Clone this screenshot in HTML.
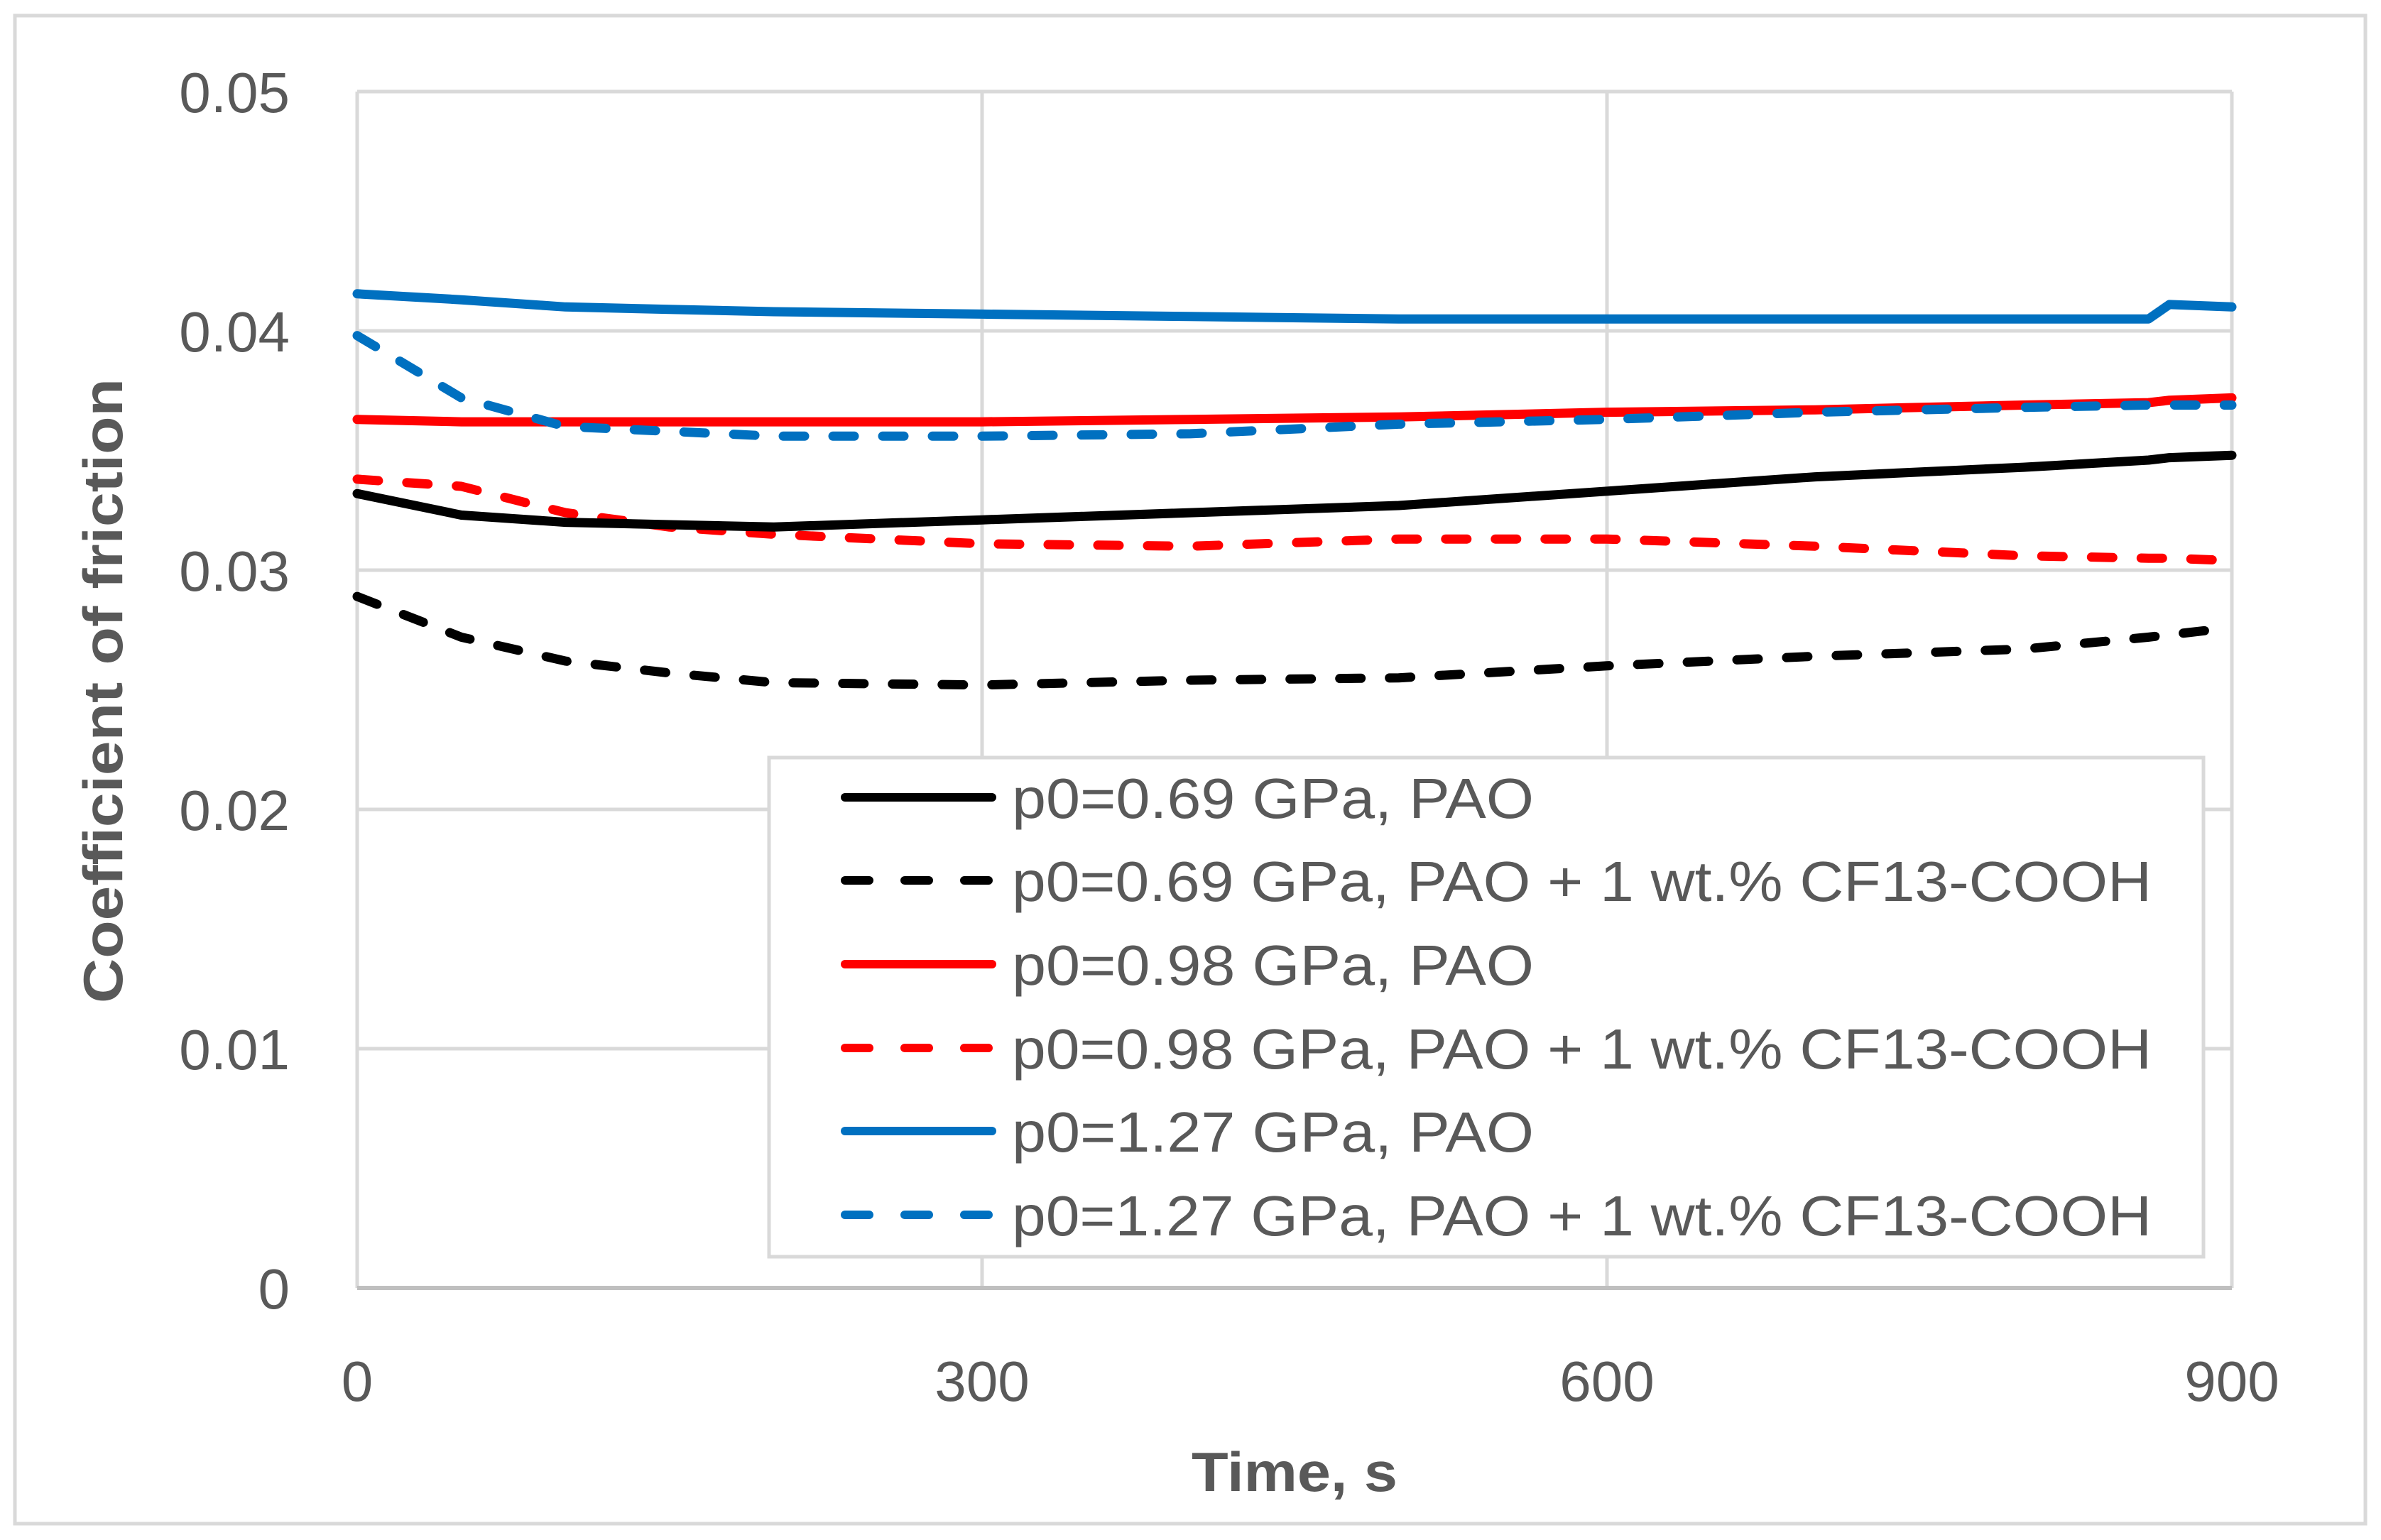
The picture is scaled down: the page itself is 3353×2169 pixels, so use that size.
<!DOCTYPE html>
<html><head><meta charset="utf-8"><style>
html,body{margin:0;padding:0;background:#fff}
svg{display:block}
text{font-family:"Liberation Sans",sans-serif;fill:#595959}
</style></head><body>
<svg id="chart" width="3353" height="2169" viewBox="0 0 3353 2169" xmlns="http://www.w3.org/2000/svg">
<rect x="21" y="22" width="3310" height="2124" fill="#fff" stroke="#d9d9d9" stroke-width="5"/>
<g id="grid"></g>
<g id="series"></g>
<g id="ticks"></g>
<text x="1823" y="2100" text-anchor="middle" font-size="78" font-weight="bold" textLength="290" lengthAdjust="spacingAndGlyphs">Time, s</text>
<text transform="translate(172,973) rotate(-90)" text-anchor="middle" font-size="78" font-weight="bold" textLength="880" lengthAdjust="spacingAndGlyphs">Coefficient of friction</text>
<g id="legend">
<rect x="1083" y="1067" width="2020" height="703" fill="#fff" stroke="#d9d9d9" stroke-width="5"/>
</g>
</svg>
<script>
const times = [0, 50, 100, 150, 200, 300, 400, 500, 600, 700, 800, 860, 870, 900];
const blueSolid  = [0.04155,0.0413,0.0410,0.0409,0.0408,0.0407,0.0406,0.0405,0.0405,0.0405,0.0405,0.0405,0.0411,0.0410];
const blueDashed = [0.0398,0.0372,0.0360,0.0358,0.0356,0.0356,0.0357,0.0361,0.0363,0.0366,0.0368,0.0369,0.0369,0.0369];
const redSolid   = [0.0363,0.0362,0.0362,0.0362,0.0362,0.0362,0.0363,0.0364,0.0366,0.0367,0.0369,0.0370,0.0371,0.0372];
const redDashed  = [0.0338,0.0335,0.0324,0.0318,0.0315,0.0311,0.0310,0.0313,0.0313,0.0310,0.0306,0.0305,0.0305,0.0304];
const blackSolid = [0.0332,0.0323,0.0320,0.0319,0.0318,0.0321,0.0324,0.0327,0.0333,0.0339,0.0343,0.0346,0.0347,0.0348];
const blackDashed= [0.0289,0.0272,0.0262,0.0257,0.0253,0.0252,0.0254,0.0255,0.0260,0.0264,0.0267,0.0272,0.0273,0.0276];
const xTicks = [0, 300, 600, 900];
const yTicks = [0, 0.01, 0.02, 0.03, 0.04, 0.05];
const yTickLabels = ["0","0.01","0.02","0.03","0.04","0.05"];
const legendLabels = ["p0=0.69 GPa, PAO","p0=0.69 GPa, PAO + 1 wt.% CF13-COOH","p0=0.98 GPa, PAO","p0=0.98 GPa, PAO + 1 wt.% CF13-COOH","p0=1.27 GPa, PAO","p0=1.27 GPa, PAO + 1 wt.% CF13-COOH"];

const NS="http://www.w3.org/2000/svg";
const X0=503,X1=3143,Y0=1814,Y1=129;
const xs=t=>X0+(t-0)/(900-0)*(X1-X0);
const ys=v=>Y0+(v-0)/(0.05-0)*(Y1-Y0);
function mk(tag,parent){const e=document.createElementNS(NS,tag);parent.appendChild(e);return e;}
const grid=document.getElementById('grid'),ticks=document.getElementById('ticks');
yTicks.forEach((v,i)=>{
  const l=mk('line',grid);
  
  
  l.setAttribute('x1',X0);l.setAttribute('x2',X1);l.setAttribute('y1',ys(v));l.setAttribute('y2',ys(v));
  l.setAttribute('stroke','#d9d9d9');l.setAttribute('stroke-width',5);
  const t=mk('text',ticks);
  
  
  t.setAttribute('x',408);t.setAttribute('y',ys(v)+29);t.setAttribute('text-anchor','end');t.setAttribute('font-size','80');
  t.textContent=yTickLabels[i];
});
xTicks.forEach(tv=>{
  const l=mk('line',grid);
  
  
  l.setAttribute('x1',xs(tv));l.setAttribute('x2',xs(tv));l.setAttribute('y1',Y1);l.setAttribute('y2',Y0);
  l.setAttribute('stroke','#d9d9d9');l.setAttribute('stroke-width',5);
  const t=mk('text',ticks);
  
  
  t.setAttribute('x',xs(tv));t.setAttribute('y',1973);t.setAttribute('text-anchor','middle');t.setAttribute('font-size','80');
  t.textContent=String(tv);
});
const ax=mk('line',grid);


ax.setAttribute('x1',X0);ax.setAttribute('x2',X1);ax.setAttribute('y1',Y0);ax.setAttribute('y2',Y0);ax.setAttribute('stroke','#bfbfbf');ax.setAttribute('stroke-width',6);

const seriesDefs=[
 {d:blackDashed,c:'#000000',dash:true,n:'series-069-cf13'},
 {d:redDashed,c:'#ff0000',dash:true,n:'series-098-cf13'},
 {d:blackSolid,c:'#000000',dash:false,n:'series-069-pao'},
 {d:redSolid,c:'#ff0000',dash:false,n:'series-098-pao'},
 {d:blueDashed,c:'#0070c0',dash:true,n:'series-127-cf13'},
 {d:blueSolid,c:'#0070c0',dash:false,n:'series-127-pao'}
];
const sg=document.getElementById('series');
seriesDefs.forEach(s=>{
  const p=mk('path',sg);
  
  
  p.setAttribute('d',s.d.map((v,i)=>(i?'L':'M')+xs(times[i]).toFixed(1)+' '+ys(v).toFixed(1)).join(' '));
  p.setAttribute('fill','none');p.setAttribute('stroke',s.c);p.setAttribute('stroke-width',13);
  p.setAttribute('stroke-linecap','round');p.setAttribute('stroke-linejoin','round');
  if(s.dash)p.setAttribute('stroke-dasharray','30 40');
});
const lg=document.getElementById('legend');
const legStyles=[['#000000',false],['#000000',true],['#ff0000',false],['#ff0000',true],['#0070c0',false],['#0070c0',true]];
const legY=[1123,1240,1358,1476,1593,1711];
legendLabels.forEach((lab,i)=>{
  const l=mk('line',lg);
  
  
  l.setAttribute('x1',1190);l.setAttribute('x2',1397);l.setAttribute('y1',legY[i]);l.setAttribute('y2',legY[i]);
  l.setAttribute('stroke',legStyles[i][0]);l.setAttribute('stroke-width',12);l.setAttribute('stroke-linecap','round');
  if(legStyles[i][1])l.setAttribute('stroke-dasharray','34 50');
  const t=mk('text',lg);
  
  
  t.setAttribute('x',1425);t.setAttribute('y',legY[i]+29);t.setAttribute('font-size','80');
  t.setAttribute('textLength',lab.length>20?1605:735);t.setAttribute('lengthAdjust','spacingAndGlyphs');
  t.textContent=lab;
});
</script>
</body></html>
